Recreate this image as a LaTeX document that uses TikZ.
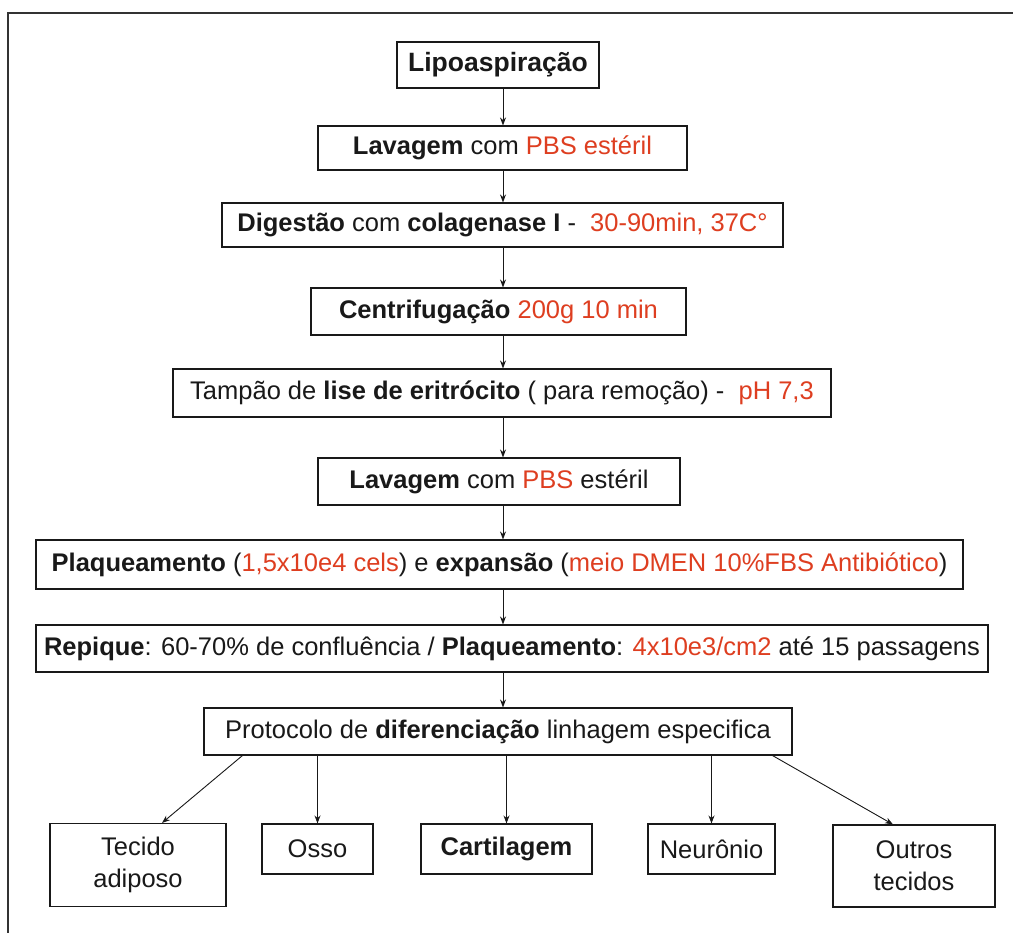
\documentclass[tikz,border=0pt]{standalone}
\usepackage{fontspec}
\setmainfont{Liberation Sans}
\usetikzlibrary{arrows.meta}
\definecolor{rd}{RGB}{222,62,32}
\definecolor{ink}{RGB}{25,25,25}
\newcommand\rt[1]{\textcolor{rd}{#1}}
\begin{document}
\begin{tikzpicture}[x=1pt,y=-1pt,
  box/.style={draw=ink, line width=1.1pt, fill=white, inner sep=0pt, text=ink,
    font=\fontsize{25.5}{32}\selectfont, align=center},
  arr/.style={-{Stealth[length=8pt,width=6pt]}, line width=0.9pt, draw=ink}]
\useasboundingbox (0,0) rectangle (1013,933);
\fill[white] (0,0) rectangle (1013,933);
\draw[line width=2pt, black!80] (8,945) -- (8,13) -- (1025,13);
\coordinate (col) at (503,0);
\node[box, font=\fontsize{26.5}{32}\selectfont, minimum width=202pt, minimum height=46pt] (n1) at (498,65) {\textbf{Lipoaspiração}};
\node[box, minimum width=369pt, minimum height=44pt] (n2) at (502.5,148) {\textbf{Lavagem} com \rt{PBS estéril}};
\node[box, minimum width=561pt, minimum height=44pt] (n3) at (502.5,225) {\textbf{Digestão} com \textbf{colagenase I} -\ \ \rt{30-90min, 37C°}};
\node[box, minimum width=375pt, minimum height=47pt] (n4) at (498.5,311.5) {\textbf{Centrifugação} \rt{200g 10 min}};
\node[box, minimum width=658pt, minimum height=48pt] (n5) at (502,393) {Tampão de \textbf{lise de eritrócito} ( para remoção) -\ \ \rt{pH 7,3}};
\node[box, minimum width=362pt, minimum height=47pt] (n6) at (499,481.5) {\textbf{Lavagem} com \rt{PBS} estéril};
\node[box, minimum width=927pt, minimum height=49pt] (n7) at (499.5,564.5) {\textbf{Plaqueamento} (\rt{1,5x10e4 cels}) e \textbf{expansão} (\rt{meio DMEN 10\%FBS Antibiótico})};
\node[box, minimum width=952pt, minimum height=47pt] (n8) at (512,648.5) {\textbf{Repique}: 60-70\% de confluência / \textbf{Plaqueamento}: \rt{4x10e3/cm2} até 15 passagens};
\node[box, minimum width=588pt, minimum height=47pt] (n9) at (498,731.5) {Protocolo de \textbf{diferenciação} linhagem especifica};
\node[box, minimum width=176pt, minimum height=83pt] (n10) at (138,865) {Tecido\\adiposo};
\node[box, minimum width=111pt, minimum height=50pt] (n11) at (317.5,849) {Osso};
\node[box, minimum width=171pt, minimum height=50pt] (n12) at (506.5,849) {\textbf{Cartilagem}};
\node[box, minimum width=127pt, minimum height=50pt] (n13) at (711.5,849) {Neurônio};
\node[box, minimum width=162pt, minimum height=82pt] (n14) at (914,866) {Outros\\tecidos};
\foreach \a/\b in {n1/n2,n2/n3,n3/n4,n4/n5,n5/n6,n6/n7,n7/n8,n8/n9}
  \draw[arr] (\a.south -| col) -- (\b.north -| col);
\draw[arr] ([xshift=39pt]n9.south west) -- ([xshift=24pt]n10.north);
\draw[arr] (n9.south -| n11) -- (n11.north);
\draw[arr] (n9.south -| n12) -- (n12.north);
\draw[arr] (n9.south -| n13) -- (n13.north);
\draw[arr] ([xshift=-20pt]n9.south east) -- ([xshift=-21pt]n14.north);
\end{tikzpicture}
\end{document}
